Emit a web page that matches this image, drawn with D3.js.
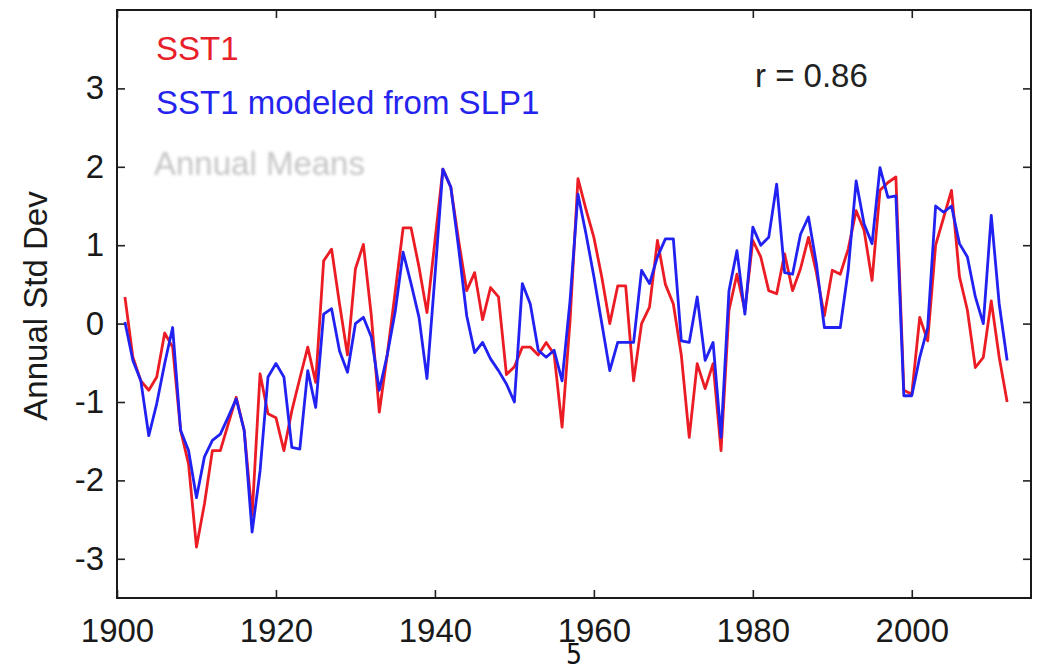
<!DOCTYPE html>
<html>
<head>
<meta charset="utf-8">
<script src="https://cdn.jsdelivr.net/npm/d3@7"></script>
<style>
  html, body { margin: 0; padding: 0; background: #fff; }
  svg { display: block; }
  text { font-family: "Liberation Sans", Arial, Helvetica, sans-serif; }
</style>
</head>
<body>
<svg id="chart" width="1042" height="666"></svg>
<script>
// Years of the annual series
const years = d3.range(1901, 2013);

// SST1 annual standard deviation
const sst1 = [
  0.34, -0.43, -0.73, -0.85, -0.68, -0.12, -0.30, -1.36, -1.79, -2.85,
  -2.30, -1.62, -1.62, -1.28, -0.94, -1.36, -2.45, -0.64, -1.15, -1.20,
  -1.62, -1.11, -0.70, -0.30, -0.75, 0.80, 0.95, 0.25, -0.40, 0.70,
  1.01, 0.10, -1.13, -0.40, 0.40, 1.22, 1.22, 0.72, 0.14, 1.05,
  1.97, 1.74, 1.05, 0.42, 0.65, 0.05, 0.46, 0.34, -0.65, -0.55,
  -0.30, -0.30, -0.40, -0.24, -0.39, -1.32, 0.03, 1.85, 1.46, 1.10,
  0.59, 0.00, 0.48, 0.48, -0.73, 0.00, 0.21, 1.06, 0.50, 0.25,
  -0.40, -1.45, -0.51, -0.83, -0.51, -1.62, 0.17, 0.63, 0.17, 1.06,
  0.85, 0.42, 0.38, 0.89, 0.42, 0.70, 1.10, 0.65, 0.10, 0.68,
  0.63, 0.95, 1.44, 1.19, 0.55, 1.70, 1.80, 1.87, -0.85, -0.90,
  0.08, -0.22, 1.00, 1.35, 1.70, 0.60, 0.17, -0.56, -0.43, 0.29,
  -0.43, -1.00
];

// SST1 modeled from SLP1
const sst1Modeled = [
  0.02, -0.47, -0.73, -1.43, -1.02, -0.51, -0.05, -1.36, -1.62, -2.22,
  -1.70, -1.49, -1.41, -1.19, -0.96, -1.36, -2.66, -1.88, -0.68, -0.51,
  -0.68, -1.58, -1.60, -0.60, -1.07, 0.12, 0.19, -0.35, -0.62, 0.00,
  0.08, -0.17, -0.85, -0.40, 0.15, 0.91, 0.51, 0.08, -0.70, 0.60,
  1.97, 1.74, 0.95, 0.10, -0.37, -0.24, -0.45, -0.60, -0.77, -1.00,
  0.51, 0.25, -0.34, -0.43, -0.34, -0.73, 0.29, 1.65, 1.15, 0.60,
  0.00, -0.60, -0.24, -0.24, -0.24, 0.68, 0.51, 0.85, 1.08, 1.08,
  -0.22, -0.24, 0.34, -0.47, -0.24, -1.45, 0.42, 0.93, 0.12, 1.23,
  1.00, 1.10, 1.78, 0.65, 0.63, 1.14, 1.36, 0.76, -0.05, -0.05,
  -0.05, 0.68, 1.82, 1.27, 1.02, 1.99, 1.61, 1.63, -0.92, -0.92,
  -0.43, -0.05, 1.50, 1.42, 1.50, 1.02, 0.85, 0.34, 0.00, 1.38,
  0.25, -0.47
];

// Axis ticks
const xTicks = [1900, 1920, 1940, 1960, 1980, 2000];
const yTicks = [-3, -2, -1, 0, 1, 2, 3];

const svg = d3.select("#chart");
const plot = { left: 117, right: 1031, top: 10, bottom: 598 };

const x = d3.scaleLinear().domain([1900, 2015]).range([plot.left, plot.right]);
const y = d3.scaleLinear().domain([-3.5, 4]).range([plot.bottom, plot.top]);

const tickLen = 8;
const fontSize = 33;

// Integer labels with a plain hyphen for negatives
const intFmt = d => String(d);

// Axes: labelled on the left and bottom, tick marks only on the top and right
const gBottom = svg.append("g")
  .attr("transform", `translate(0,${plot.bottom})`)
  .call(d3.axisBottom(x).tickValues(xTicks).tickFormat(intFmt)
    .tickSizeInner(-tickLen).tickSizeOuter(0).tickPadding(21));

const gLeft = svg.append("g")
  .attr("transform", `translate(${plot.left},0)`)
  .call(d3.axisLeft(y).tickValues(yTicks).tickFormat(intFmt)
    .tickSizeInner(-tickLen).tickSizeOuter(0).tickPadding(13));

const gTop = svg.append("g")
  .attr("transform", `translate(0,${plot.top})`)
  .call(d3.axisTop(x).tickValues(xTicks).tickFormat("")
    .tickSizeInner(-tickLen).tickSizeOuter(0));

const gRight = svg.append("g")
  .attr("transform", `translate(${plot.right},0)`)
  .call(d3.axisRight(y).tickValues(yTicks).tickFormat("")
    .tickSizeInner(-tickLen).tickSizeOuter(0));

[gBottom, gLeft, gTop, gRight].forEach(g => {
  g.select(".domain").remove();
  g.selectAll(".tick line").attr("stroke", "#222").attr("stroke-width", 1.6);
  g.selectAll(".tick text")
    .attr("fill", "#1a1a1a")
    .style("font-size", fontSize + "px")
    .style("font-family", '"Liberation Sans", Arial, sans-serif');
});

// Frame around the plot area
svg.append("rect")
  .attr("x", plot.left).attr("y", plot.top)
  .attr("width", plot.right - plot.left).attr("height", plot.bottom - plot.top)
  .attr("fill", "none").attr("stroke", "#1a1a1a").attr("stroke-width", 2);

// Series lines
const line = d3.line()
  .x((d, i) => x(years[i]))
  .y(d => y(d));

svg.append("path")
  .datum(sst1)
  .attr("d", line)
  .attr("fill", "none")
  .attr("stroke", "#ec1c24")
  .attr("stroke-width", 2.8)
  .attr("stroke-linejoin", "round");

svg.append("path")
  .datum(sst1Modeled)
  .attr("d", line)
  .attr("fill", "none")
  .attr("stroke", "#2121f2")
  .attr("stroke-width", 2.8)
  .attr("stroke-linejoin", "round");

// Y axis title
svg.append("text")
  .attr("transform", "translate(47,306) rotate(-90)")
  .attr("text-anchor", "middle")
  .attr("fill", "#1a1a1a")
  .style("font-size", fontSize + "px")
  .text("Annual Std Dev");

// Legend labels
svg.append("text")
  .attr("x", 156).attr("y", 60)
  .attr("fill", "#e8202a")
  .style("font-size", fontSize + "px")
  .text("SST1");

svg.append("text")
  .attr("x", 156).attr("y", 114)
  .attr("fill", "#2424ee")
  .style("font-size", fontSize + "px")
  .text("SST1 modeled from SLP1");

// Faded label
const defs = svg.append("defs");
defs.append("filter")
  .attr("id", "soft")
  .attr("x", "-10%").attr("y", "-30%").attr("width", "120%").attr("height", "160%")
  .append("feGaussianBlur").attr("stdDeviation", 1.4);

svg.append("text")
  .attr("x", 154).attr("y", 175)
  .attr("fill", "#c4c4c4")
  .attr("filter", "url(#soft)")
  .style("font-size", fontSize + "px")
  .text("Annual Means");

// Correlation annotation
svg.append("text")
  .attr("x", 755).attr("y", 87)
  .attr("fill", "#222")
  .style("font-size", fontSize + "px")
  .text("r = 0.86");

// Page number
svg.append("text")
  .attr("x", 574).attr("y", 664)
  .attr("text-anchor", "middle")
  .attr("fill", "#111")
  .style("font-family", '"Liberation Sans Narrow", "DejaVu Sans Condensed", "Liberation Sans", sans-serif')
  .style("font-size", "28px")
  .text("5");
</script>
</body>
</html>
